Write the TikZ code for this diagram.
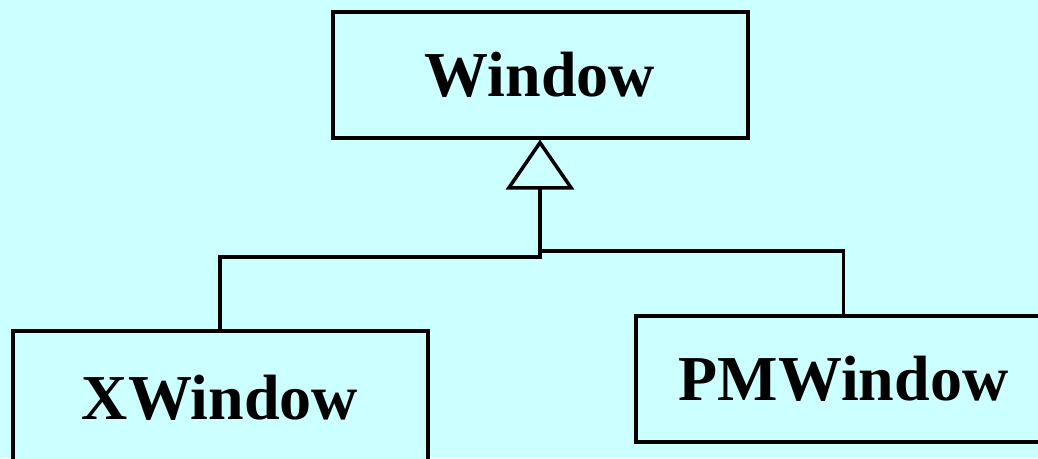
\documentclass[tikz,border=0pt]{standalone}
\usepackage{fontspec}
\setmainfont{Liberation Serif}
\usetikzlibrary{arrows.meta}
\definecolor{backcolorc}{HTML}{CCFFFF}
\colorlet{backcolor}{backcolorc}
\tikzstyle{classbox} =[
    draw=black,
    fill=backcolor,
    line width=4pt,
    rectangle,
    inner sep=0pt,
    minimum width=415pt,
    minimum height=126pt,
    font=\fontsize{64}{70}\selectfont\bfseries
    ]
\tikzstyle{inherit} =[
    draw=black,
    line width=3.5pt,
    -{Triangle[open, length=50pt, width=68pt]}
    ]
\tikzstyle{branch} =[
    draw=black,
    line width=3.5pt
    ]

\begin{document}
\begin{tikzpicture}[x=1pt, y=-1pt]
\useasboundingbox (0,0) rectangle (1038,458);
\clip (0,0) rectangle (1038,458);
\fill[backcolor] (0,0) rectangle (1038,458);

\node [classbox] (window) at (540,74.5) {Window};
\node [classbox, minimum height=134pt] (xwindow) at (220,398) {XWindow};
\node [classbox] (pmwindow) at (843.5,378.5) {PMWindow};

% the two subclass lines meet under the triangle
\coordinate (joinl) at (540,257);
\coordinate (joinr) at (540,251);
\draw[inherit] (xwindow.north) |- (joinl) -- (window.south);
\draw[branch] (pmwindow.north) |- (joinr);
\end{tikzpicture}
\end{document}
